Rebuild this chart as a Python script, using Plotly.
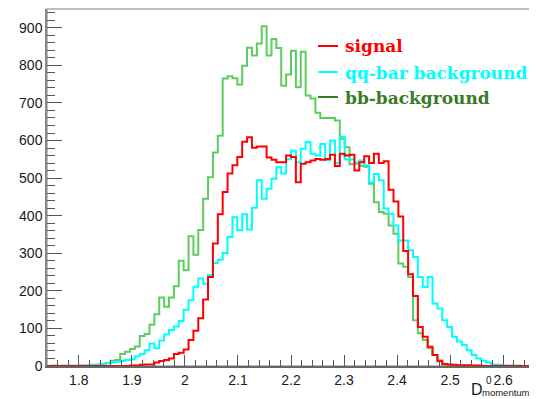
import numpy as np
import plotly.graph_objects as go

# Histogram binning (100 bins)
X_LO = 1.74
X_HI = 2.66
N_BINS = 100

signal = [0, 0, 0, 0, 0, 0, 0, 0, 0, 0,
          0, 0, 0, 0, 0, 0, 0, 1, 1, 3,
          4, 4, 9, 13, 16, 20, 32, 35, 44, 69,
          94, 127, 177, 237, 326, 404, 463, 512, 534, 556,
          597, 609, 581, 584, 584, 555, 549, 542, 542, 560,
          556, 489, 538, 542, 547, 551, 549, 551, 562, 532,
          565, 560, 562, 520, 542, 558, 540, 565, 540, 545,
          469, 438, 398, 306, 244, 186, 104, 78, 51, 29,
          14, 5, 4, 3, 2, 2, 2, 1, 1, 0,
          0, 0, 0, 0, 0, 0, 0, 0, 0, 0]

qqbar = [0, 1, 0, 1, 1, 1, 1, 2, 2, 3,
         3, 5, 7, 9, 11, 13, 16, 18, 26, 32,
         42, 60, 47, 68, 84, 96, 105, 120, 150, 175,
         211, 233, 219, 242, 274, 283, 301, 343, 396, 361,
         404, 363, 421, 494, 445, 472, 498, 529, 512, 550,
         573, 542, 578, 596, 565, 560, 591, 548, 600, 540,
         610, 550, 550, 538, 547, 534, 489, 511, 494, 419,
         405, 374, 334, 334, 308, 290, 237, 210, 237, 166,
         153, 122, 104, 78, 65, 56, 42, 29, 20, 14,
         9, 4, 3, 2, 1, 1, 1, 0, 0, 0]

bb = [0, 0, 0, 0, 0, 0, 0, 0, 1, 2,
      3, 5, 8, 14, 16, 32, 38, 45, 52, 80,
      85, 110, 138, 182, 158, 182, 212, 280, 255, 345,
      296, 362, 445, 502, 568, 613, 765, 771, 766, 749,
      799, 847, 826, 858, 904, 826, 870, 846, 746, 776,
      839, 742, 836, 720, 712, 674, 660, 660, 660, 653,
      605, 582, 537, 540, 533, 530, 485, 436, 410, 405,
      374, 352, 273, 264, 237, 122, 87, 69, 47, 29,
      12, 3, 1, 0, 0, 0, 0, 0, 0, 0,
      0, 0, 0, 0, 0, 0, 0, 0, 0, 0]

X_TICKS = [1.8, 1.9, 2.0, 2.1, 2.2, 2.3, 2.4, 2.5, 2.6]
X_TICK_TEXT = ["1.8", "1.9", "2", "2.1", "2.2", "2.3", "2.4", "2.5", "2.6"]
Y_TICKS = [0, 100, 200, 300, 400, 500, 600, 700, 800, 900]

series = [
    ("bb-background", bb, "#5ccd5c"),
    ("qq-bar background", qqbar, "#00ffff"),
    ("signal", signal, "#ff0000"),
]

edges = np.linspace(X_LO, X_HI, N_BINS + 1)

fig = go.Figure()
for name, vals, col in series:
    y = list(vals) + [vals[-1]]
    fig.add_trace(go.Scatter(x=edges, y=y, mode="lines", line_shape="hv",
                             line=dict(color=col, width=2), name=name,
                             showlegend=False, hoverinfo="skip"))

# page has an 8px body margin; figure size compensates
OFF = 8
W, H = 537 - OFF, 399 - OFF
L, R, T, B = 47 - OFF, 2, 1, 33
pw, ph = W - L - R, H - T - B

def px(xp):  # page pixel -> paper
    return (xp - OFF - L) / pw

def py(yp):
    return (H - B - (yp - OFF)) / ph

axis_font = dict(family="Liberation Sans, Arial, sans-serif", size=14, color="#1a1a1a")

fig.update_layout(
    width=W, height=H,
    margin=dict(l=L, r=R, t=T, b=B, pad=0),
    paper_bgcolor="white", plot_bgcolor="white",
    xaxis=dict(range=[X_LO, X_HI], tickmode="array", tickvals=X_TICKS, ticktext=X_TICK_TEXT,
               ticks="inside", ticklen=11, tickwidth=1, tickcolor="#555",
               minor=dict(tickmode="linear", tick0=1.8, dtick=0.02, ticks="inside",
                          ticklen=6, tickwidth=1, tickcolor="#555", showgrid=False),
               showgrid=False, zeroline=False, showline=True, linecolor="#666", linewidth=1.5,
               tickfont=axis_font),
    yaxis=dict(range=[0, 950], tickmode="array", tickvals=Y_TICKS,
               ticks="inside", ticklen=15, tickwidth=1, tickcolor="#555",
               minor=dict(tickmode="linear", tick0=0, dtick=20, ticks="inside",
                          ticklen=8, tickwidth=1, tickcolor="#555", showgrid=False),
               showgrid=False, zeroline=False, showline=True, linecolor="#888", linewidth=1.5,
               tickfont=axis_font),
)

# frame (top / right)
fig.add_shape(type="rect", xref="paper", yref="paper", x0=0, x1=1, y0=0, y1=1,
              line=dict(color="#aaaaaa", width=1.5), layer="below")

# legend
leg_font = "DejaVu Serif, serif"
leg = [("signal", "#ff0000", "#ff0000", 46),
       ("qq-bar background", "#00ffff", "#00ffff", 72),
       ("bb-background", "#3a7b28", "#3a7b28", 97)]
for txt, lcol, tcol, yy in leg:
    fig.add_shape(type="line", xref="paper", yref="paper",
                  x0=px(318), x1=px(338), y0=py(yy), y1=py(yy),
                  line=dict(color=lcol, width=2))
    fig.add_annotation(text="<b>%s</b>" % txt, xref="paper", yref="paper",
                       x=px(343), y=py(yy + 0.5), xanchor="left", yanchor="middle",
                       showarrow=False, font=dict(family=leg_font, size=17, color=tcol))

# x-axis title D^0_momentum
fig.add_annotation(text="D", xref="paper", yref="paper", x=px(485), y=py(389),
                   xanchor="right", yanchor="middle", showarrow=False,
                   font=dict(family="Liberation Sans, Arial", size=16, color="#1a1a1a"))
fig.add_annotation(text="0", xref="paper", yref="paper", x=px(484), y=py(380),
                   xanchor="left", yanchor="middle", showarrow=False,
                   font=dict(family="Liberation Sans, Arial", size=10, color="#1a1a1a"))
fig.add_annotation(text="momentum", xref="paper", yref="paper", x=px(532), y=py(392.5),
                   xanchor="right", yanchor="middle", showarrow=False,
                   font=dict(family="Liberation Sans, Arial", size=9.5, color="#1a1a1a"))

fig.write_html("out.html")
